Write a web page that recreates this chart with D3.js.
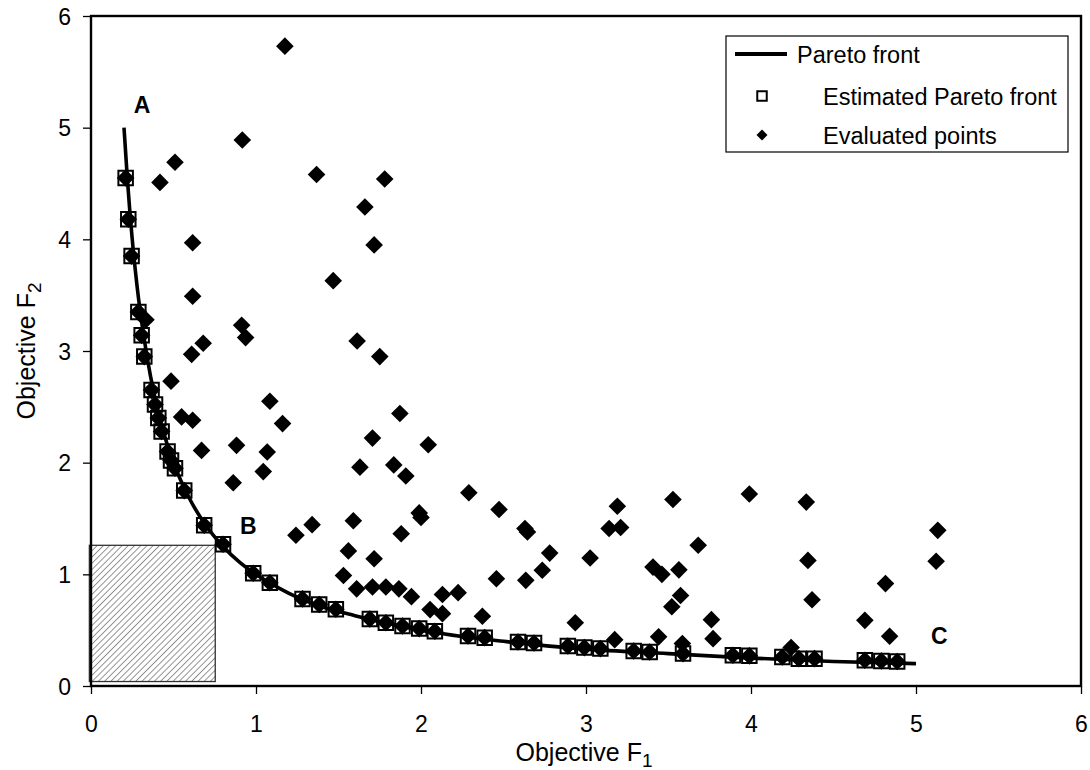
<!DOCTYPE html>
<html>
<head>
<meta charset="utf-8">
<script src="https://cdn.jsdelivr.net/npm/d3@7"></script>
<style>
  html, body { margin: 0; padding: 0; background: #fff; }
  svg { display: block; font-family: Arial, "Liberation Sans", sans-serif; }
</style>
</head>
<body>
<svg id="chart" width="1090" height="770"></svg>
<script>
// ---- data ----
const xTicks = [0, 1, 2, 3, 4, 5, 6];
const yTicks = [0, 1, 2, 3, 4, 5, 6];

// Pareto front (true curve)
const paretoF1 = [0.2, 0.22, 0.25, 0.28, 0.32, 0.36, 0.4, 0.45, 0.5, 0.6, 0.7, 0.8, 0.9, 1.0, 1.2, 1.4, 1.6, 1.8, 2.0, 2.5, 3.0, 3.5, 4.0, 4.5, 5.0];
const paretoF2 = [5.0, 4.55, 4.0, 3.57, 3.13, 2.78, 2.5, 2.22, 2.0, 1.67, 1.43, 1.25, 1.11, 1.0, 0.83, 0.71, 0.63, 0.56, 0.5, 0.4, 0.33, 0.29, 0.25, 0.22, 0.2];

// Estimated Pareto front (squares)
const estF1 = [0.21, 0.226, 0.246, 0.287, 0.307, 0.323, 0.367, 0.388, 0.408, 0.428, 0.464, 0.485, 0.509, 0.565, 0.686, 0.80, 0.983, 1.084, 1.282, 1.383, 1.484, 1.69, 1.787, 1.888, 1.989, 2.084, 2.285, 2.386, 2.588, 2.685, 2.89, 2.99, 3.087, 3.289, 3.386, 3.588, 3.89, 3.99, 4.19, 4.29, 4.385, 4.69, 4.79, 4.886];
const estF2 = [4.55, 4.18, 3.85, 3.35, 3.14, 2.95, 2.65, 2.52, 2.40, 2.28, 2.10, 2.02, 1.95, 1.75, 1.44, 1.27, 1.01, 0.925, 0.78, 0.73, 0.687, 0.60, 0.567, 0.537, 0.514, 0.49, 0.448, 0.433, 0.394, 0.385, 0.358, 0.344, 0.335, 0.313, 0.304, 0.29, 0.275, 0.27, 0.26, 0.245, 0.245, 0.23, 0.224, 0.22];

// Other evaluated points (diamonds), in addition to those on the estimated front
const evalF1 = [1.175, 0.917, 0.509, 0.418, 1.367, 1.78, 1.66, 1.716, 0.616,
  1.468, 0.616, 0.333, 0.913, 0.937, 0.68, 1.613, 0.61, 1.75, 0.485,
  1.084, 1.161, 0.549, 0.616, 1.872, 1.706, 2.044, 0.67, 0.882, 1.068, 1.044, 0.862, 1.63, 1.835, 1.908,
  2.29, 2.473, 2.63, 2.645, 1.989, 2.0, 1.242, 1.34, 1.59, 1.88, 1.56, 1.716, 2.78, 2.735, 2.635, 2.457, 3.025, 3.19, 3.14, 3.21, 3.527, 3.68, 3.406, 3.46, 3.563, 3.573, 3.52, 3.76, 3.77, 3.99,
  1.53, 1.61, 1.706, 1.787, 1.866, 1.942, 2.055, 2.13, 2.13, 2.225, 2.372, 2.935, 3.174, 3.44, 3.584,
  4.335, 4.345, 4.37, 4.243, 4.69, 4.815, 4.84, 5.132, 5.122];
const evalF2 = [5.73, 4.89, 4.69, 4.51, 4.58, 4.54, 4.29, 3.95, 3.97,
  3.63, 3.49, 3.28, 3.23, 3.12, 3.07, 3.09, 2.97, 2.95, 2.73,
  2.55, 2.35, 2.41, 2.38, 2.44, 2.22, 2.16, 2.11, 2.155, 2.095, 1.92, 1.82, 1.96, 1.98, 1.88,
  1.73, 1.58, 1.41, 1.38, 1.55, 1.51, 1.35, 1.445, 1.48, 1.364, 1.21, 1.14, 1.19, 1.036, 0.946, 0.96, 1.146, 1.61, 1.41, 1.42, 1.67, 1.26, 1.065, 1.0, 1.04, 0.81, 0.71, 0.594, 0.424, 1.72,
  0.99, 0.87, 0.886, 0.886, 0.87, 0.80, 0.684, 0.82, 0.648, 0.836, 0.624, 0.567, 0.415, 0.44, 0.38,
  1.647, 1.125, 0.773, 0.344, 0.588, 0.917, 0.445, 1.394, 1.117];

// Shaded region corners [F1min, F1max], [F2min, F2max]
const regionF1 = [-0.01, 0.753];
const regionF2 = [0.04, 1.26];

// Point labels
const labelText = ["A", "B", "C"];
const labelF1 = [0.31, 0.953, 5.142];
const labelF2 = [5.21, 1.44, 0.454];

const legendNames = ["Pareto front", "Estimated Pareto front", "Evaluated points"];

// ---- layout ----
const svg = d3.select("#chart");
const margin = { left: 91, top: 16, right: 9, bottom: 84 };
const W = 1090 - margin.left - margin.right;
const H = 770 - margin.top - margin.bottom;
const g = svg.append("g").attr("transform", `translate(${margin.left},${margin.top})`);

const x = d3.scaleLinear().domain([0, 6]).range([0, W]);
const y = d3.scaleLinear().domain([0, 6]).range([H, 0]);

// hatch pattern
const defs = svg.append("defs");
const pat = defs.append("pattern")
  .attr("id", "hatch").attr("patternUnits", "userSpaceOnUse")
  .attr("width", 4.4).attr("height", 4.4)
  .attr("patternTransform", "rotate(45)");
pat.append("rect").attr("width", 4.4).attr("height", 4.4).attr("fill", "#fff");
pat.append("line").attr("x1", 0).attr("y1", 0).attr("x2", 0).attr("y2", 4.4)
  .attr("stroke", "#8a8a8a").attr("stroke-width", 1.8);

// shaded region
g.append("rect")
  .attr("x", x(regionF1[0])).attr("y", y(regionF2[1]))
  .attr("width", x(regionF1[1]) - x(regionF1[0]))
  .attr("height", y(regionF2[0]) - y(regionF2[1]))
  .attr("fill", "url(#hatch)")
  .attr("stroke", "#333").attr("stroke-width", 1.3);

// axes
const xAxis = d3.axisBottom(x).tickValues(xTicks).tickSize(8).tickFormat(d3.format("d"));
const yAxis = d3.axisLeft(y).tickValues(yTicks).tickSize(8).tickFormat(d3.format("d"));

const gx = g.append("g").attr("transform", `translate(0,${H})`).call(xAxis);
gx.select(".domain").remove();
gx.selectAll(".tick line").attr("stroke", "#000").attr("stroke-width", 1.3);
gx.selectAll(".tick text").attr("font-size", 23).attr("fill", "#000")
  .attr("y", 46).attr("dy", 0);

const gy = g.append("g").call(yAxis);
gy.select(".domain").remove();
gy.selectAll(".tick line").attr("stroke", "#000").attr("stroke-width", 1.3);
gy.selectAll(".tick text").attr("font-size", 23).attr("fill", "#000")
  .attr("x", -20).attr("dy", "0.36em");

// frame
g.append("rect").attr("x", 0).attr("y", 0).attr("width", W).attr("height", H)
  .attr("fill", "none").attr("stroke", "#000").attr("stroke-width", 2.4);

// Pareto front line
const line = d3.line().x(d => x(d[0])).y(d => y(d[1])).curve(d3.curveMonotoneX);
const paretoData = paretoF1.map((v, i) => [v, paretoF2[i]]);
g.append("path").datum(paretoData)
  .attr("d", line).attr("fill", "none").attr("stroke", "#000").attr("stroke-width", 3.6);

// diamonds
const dia = d3.symbol().type(d3.symbolSquare).size(155);
const allEval = evalF1.map((v, i) => [v, evalF2[i]]).concat(estF1.map((v, i) => [v, estF2[i]]));
g.append("g").selectAll("path").data(allEval).join("path")
  .attr("d", dia)
  .attr("transform", d => `translate(${x(d[0])},${y(d[1])}) rotate(45)`)
  .attr("fill", "#000");

// squares (estimated front)
const sq = d3.symbol().type(d3.symbolSquare).size(210);
g.append("g").selectAll("path").data(estF1.map((v, i) => [v, estF2[i]])).join("path")
  .attr("d", sq)
  .attr("transform", d => `translate(${x(d[0])},${y(d[1])})`)
  .attr("fill", "none").attr("stroke", "#000").attr("stroke-width", 2);

// labels A B C
g.append("g").selectAll("text").data(labelText).join("text")
  .attr("x", (d, i) => x(labelF1[i])).attr("y", (d, i) => y(labelF2[i]) + 8.5)
  .attr("text-anchor", "middle").attr("font-size", 23).attr("font-weight", "bold")
  .text(d => d);

// axis titles
const xt = svg.append("text").attr("x", 584).attr("y", 761).attr("text-anchor", "middle")
  .attr("font-size", 25).attr("fill", "#000");
xt.append("tspan").text("Objective F");
xt.append("tspan").attr("font-size", 19).attr("dy", 6).text("1");

const yt = svg.append("text").attr("transform", `translate(35,${margin.top + H / 2}) rotate(-90)`)
  .attr("text-anchor", "middle").attr("font-size", 25).attr("fill", "#000");
yt.append("tspan").text("Objective F");
yt.append("tspan").attr("font-size", 19).attr("dy", 6).text("2");

// legend
const lg = svg.append("g");
lg.append("rect").attr("x", 726).attr("y", 36).attr("width", 342).attr("height", 116)
  .attr("fill", "#fff").attr("stroke", "#000").attr("stroke-width", 1.2);
const rows = [54, 96, 135];
lg.append("line").attr("x1", 735).attr("x2", 787).attr("y1", rows[0]).attr("y2", rows[0])
  .attr("stroke", "#000").attr("stroke-width", 4);
lg.append("path").attr("d", d3.symbol().type(d3.symbolSquare).size(90))
  .attr("transform", `translate(762,${rows[1]})`)
  .attr("fill", "none").attr("stroke", "#000").attr("stroke-width", 2);
lg.append("path").attr("d", d3.symbol().type(d3.symbolSquare).size(60))
  .attr("transform", `translate(762,${rows[2]}) rotate(45)`).attr("fill", "#000");
const textX = [797, 823, 823];
lg.selectAll("text.lt").data(legendNames).join("text").attr("class", "lt")
  .attr("x", (d, i) => textX[i]).attr("y", (d, i) => rows[i] + 8.5)
  .attr("font-size", 23.5).attr("fill", "#000").text(d => d);
</script>
</body>
</html>
